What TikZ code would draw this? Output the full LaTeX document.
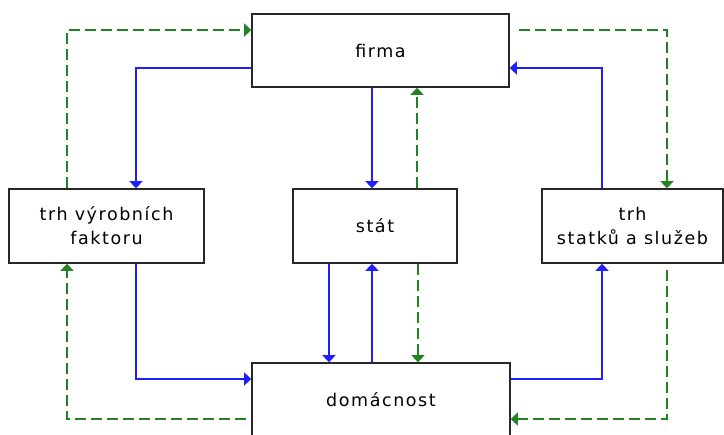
\documentclass[tikz,border=0pt]{standalone}
\usepackage{fontspec}
\setmainfont[LetterSpace=9]{DejaVu Sans}
\usetikzlibrary{arrows.meta,calc}
\definecolor{flowblue}{RGB}{30,30,255}
\definecolor{moneygreen}{RGB}{35,130,35}
\definecolor{boxline}{RGB}{40,40,40}
\begin{document}
\begin{tikzpicture}[x=1pt,y=-1pt,
  box/.style={draw=boxline,line width=1.6pt,fill=white,inner sep=0pt,align=center,
    font=\fontsize{17.5}{24}\selectfont},
  flow/.style={draw=flowblue,line width=1.5pt,-{Triangle[width=13pt,length=7pt]}},
  money/.style={draw=moneygreen,line width=1.5pt,dash pattern=on 11pt off 5pt,
    -{Triangle[width=13pt,length=7pt]}}]
\clip (0,0) rectangle (724,435);
\useasboundingbox (0,0) rectangle (724,435);
\fill[white] (0,0) rectangle (724,435);
\node[box,minimum width=257pt,minimum height=73pt] (firma) at (380.5,50.5) {firma};
\node[box,minimum width=195pt,minimum height=74pt] (tv) at (106.5,226) {trh výrobních\\faktoru};
\node[box,minimum width=164pt,minimum height=74pt] (stat) at (375,226) {stát};
\node[box,minimum width=181pt,minimum height=74pt] (ts) at (632.5,226) {trh\\statků a služeb};
\node[box,minimum width=258pt,minimum height=74pt] (dom) at (381,400) {domácnost};
\coordinate (g1) at (519,30);
\coordinate (g2) at (667,270);
\coordinate (g3) at (246,419);
% upper part
\draw[flow] (firma.west |- 0,68) -| (tv.north -| 136,0);
\draw[money] (tv.north -| 67,0) |- (firma.west |- 0,30);
\draw[flow] (firma.south -| 372,0) -- (stat.north -| 372,0);
\draw[money] (stat.north -| 417,0) -- (firma.south -| 417,0);
\draw[flow] (ts.north -| 602,0) |- (firma.east |- 0,68);
\draw[money] (g1) -| (ts.north -| 667,0);
% lower part
\draw[flow] (tv.south -| 136,0) |- (dom.west |- 0,379);
\draw[money] (g3) -| (tv.south -| 67,0);
\draw[flow] (stat.south -| 329,0) -- (dom.north -| 329,0);
\draw[flow] (dom.north -| 372,0) -- (stat.south -| 372,0);
\draw[money] (stat.south -| 418,0) -- (dom.north -| 418,0);
\draw[flow] (dom.east |- 0,379) -| (ts.south -| 602,0);
\draw[money] (g2) |- (dom.east |- 0,419);
\end{tikzpicture}
\end{document}
